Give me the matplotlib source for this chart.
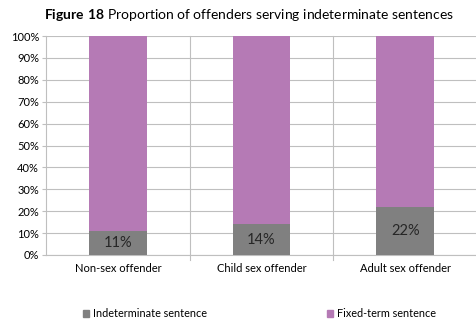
import matplotlib.pyplot as plt
from matplotlib.patches import Patch

# offender groups and share of each sentence type (%)
categories = ["Non-sex offender", "Child sex offender", "Adult sex offender"]
indeterminate = [11, 14, 22]
fixed_term = [89, 86, 78]

grey = "#808080"
purple = "#B57AB5"
grid_col = "#BFBFBF"

plt.rcParams["font.family"] = ["Lato", "DejaVu Sans"]
plt.rcParams["mathtext.fontset"] = "custom"
plt.rcParams["mathtext.rm"] = "Lato"
plt.rcParams["mathtext.bf"] = "Lato:bold"

fig = plt.figure(figsize=(4.77, 3.25), dpi=100)
ax = fig.add_axes([0.0964, 0.2154, 0.9036, 0.6736])

x = range(len(categories))
ax.bar(x, indeterminate, width=0.4, color=grey, zorder=3)
ax.bar(x, fixed_term, width=0.4, bottom=indeterminate, color=purple, zorder=3)

for i, v in enumerate(indeterminate):
    ax.text(i, v / 2, f"{v}%", ha="center", va="center", fontsize=10.5,
            color="#262626", zorder=4)

ax.set_xlim(-0.5, 2.5)
ax.set_ylim(0, 100)
ax.set_yticks(range(0, 101, 10))
ax.set_yticklabels([f"{t}%" for t in range(0, 101, 10)], fontsize=8)
ax.set_xticks(list(x))
ax.set_xticklabels(categories, fontsize=8)
ax.tick_params(axis="x", length=0, pad=6)
ax.tick_params(axis="y", length=3, color=grid_col, pad=2)

# horizontal gridlines plus vertical separators between groups
ax.yaxis.grid(True, color=grid_col, linewidth=0.8, zorder=0)
for b in [0.5, 1.5]:
    ax.plot([b, b], [-2.5, 100], color=grid_col, linewidth=0.8, zorder=0,
            clip_on=False)
for s in ["top", "right"]:
    ax.spines[s].set_visible(False)
ax.spines["left"].set_color(grid_col)
ax.spines["bottom"].set_color(grid_col)

fig.text(0.522, 0.955,
         r"$\bf{Figure\ 18}$ Proportion of offenders serving indeterminate sentences",
         ha="center", va="center", fontsize=10)

handles = [Patch(color=grey), Patch(color=purple)]
fig.legend(handles, ["Indeterminate sentence", "Fixed-term sentence"],
           loc="center", bbox_to_anchor=(0.544, 0.035), ncol=2, frameon=False,
           fontsize=7.8, handlelength=0.6, handleheight=0.6, handletextpad=0.4,
           columnspacing=11)

fig.savefig("out.png", dpi=100)
